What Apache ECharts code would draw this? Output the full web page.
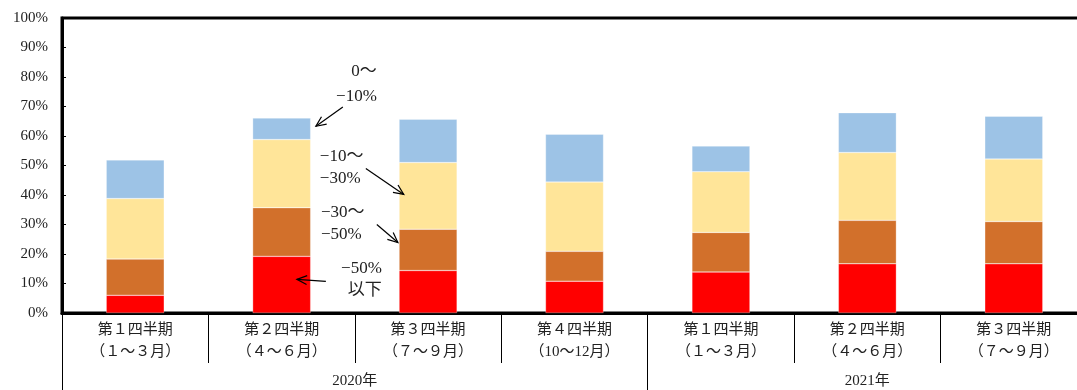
<!DOCTYPE html>
<html>
<head>
<meta charset="utf-8">
<script src="https://cdn.jsdelivr.net/npm/echarts@6/dist/echarts.min.js"></script>
<style>
  html, body { margin: 0; padding: 0; background: #fff; }
  #chart { width: 1077px; height: 390px; }
</style>
</head>
<body>
<div id="chart"></div>
<script>
// Quarters (two-line labels) and the year they belong to
const quarters = [
  '第１四半期\n（１～３月）',
  '第２四半期\n（４～６月）',
  '第３四半期\n（７～９月）',
  '第４四半期\n（10～12月）',
  '第１四半期\n（１～３月）',
  '第２四半期\n（４～６月）',
  '第３四半期\n（７～９月）'
];
const years = ['2020年', '2021年'];
const yearSpans = [[0, 3], [4, 6]];   // first and last quarter index of each year

// Share of respondents (%) in each decline band, stacked bottom to top
const below50 = [6.0, 19.2, 14.4, 10.8, 13.9, 16.7, 16.7];   // −50%以下
const from30to50 = [12.3, 16.5, 14.0, 10.1, 13.4, 14.7, 14.3]; // −30～−50%
const from10to30 = [20.5, 23.1, 22.6, 23.5, 20.6, 23.0, 21.2]; // −10～−30%
const from0to10 = [13.1, 7.3, 14.7, 16.2, 8.7, 13.5, 14.5];    // 0～−10%

const yTicks = [0, 10, 20, 30, 40, 50, 60, 70, 80, 90, 100];

const serif = '"Liberation Serif", "DejaVu Serif", "Noto Sans CJK JP", serif';
const colors = ['#FF0000', '#D2702B', '#FFE599', '#9DC3E6'];

// year label positions (centre of each year's quarters) and year boundaries
const yearCentres = yearSpans.map(s => (s[0] + s[1]) / 2);
const yearBounds = yearSpans.map(s => s[0] - 0.5);

function bar(name, data, color) {
  return {
    name: name, type: 'bar', stack: 'total', data: data, barWidth: 58,
    itemStyle: { color: color, borderColor: 'rgba(255,255,255,0.6)', borderWidth: 0.5 },
    emphasis: { disabled: true }, silent: true
  };
}

const chart = echarts.init(document.getElementById('chart'), null, { renderer: 'canvas' });

chart.setOption({
  animation: false,
  backgroundColor: '#fff',
  grid: {
    left: 62, top: 18, width: 1025, height: 295,
    outerBoundsMode: 'none', containLabel: false,
    show: true, borderColor: '#000', borderWidth: 3, backgroundColor: 'transparent'
  },
  xAxis: [
    {
      type: 'category', data: quarters, position: 'bottom',
      axisLine: { show: true, onZero: false, lineStyle: { color: '#000', width: 3 } },
      axisTick: { show: true, interval: 0, length: 50, lineStyle: { color: '#000', width: 1 } },
      axisLabel: {
        interval: 0, margin: 6, lineHeight: 22, fontSize: 15,
        fontFamily: serif, color: '#222'
      }
    },
    {
      // year row below the quarters
      type: 'value', position: 'bottom', min: -0.5, max: 6.5,
      axisLine: { show: false, onZero: false },
      splitLine: { show: false },
      axisTick: { show: true, customValues: yearBounds, length: 80, lineStyle: { color: '#000', width: 1 } },
      axisLabel: {
        customValues: yearCentres, margin: 61, fontSize: 15, fontFamily: serif, color: '#222',
        formatter: v => years[yearCentres.indexOf(v)] || ''
      }
    }
  ],
  yAxis: {
    type: 'value', min: 0, max: 100, interval: 10,
    axisLine: { show: true, onZero: false, lineStyle: { color: '#000', width: 3 } },
    axisTick: { show: true, inside: true, length: 4, lineStyle: { color: '#000', width: 1 } },
    splitLine: { show: false },
    axisLabel: {
      margin: 14, fontSize: 15, fontFamily: serif, color: '#222',
      formatter: v => yTicks.indexOf(v) >= 0 ? v + '%' : ''
    }
  },
  series: [
    bar('−50%以下', below50, colors[0]),
    bar('−30～−50%', from30to50, colors[1]),
    bar('−10～−30%', from10to30, colors[2]),
    bar('0～−10%', from0to10, colors[3])
  ]
});

// Callout labels for the bands, placed in data space near the 2020 Q2/Q3 bars
function pt(xf, v) {
  const a = chart.convertToPixel({ xAxisIndex: 0, yAxisIndex: 0 }, [1, v]);
  const b = chart.convertToPixel({ xAxisIndex: 0, yAxisIndex: 0 }, [2, v]);
  return [a[0] + (xf - 1) * (b[0] - a[0]), a[1]];
}
function label(text, xf, v, align) {
  const p = pt(xf, v);
  return {
    type: 'text', x: p[0], y: p[1], z: 100, silent: true,
    style: { text: text, fill: '#222', font: '17px ' + serif, align: align, verticalAlign: 'middle' }
  };
}
function arrow(from, to) {
  const p0 = pt(from[0], from[1]);
  const p1 = pt(to[0], to[1]);
  const ang = Math.atan2(p1[1] - p0[1], p1[0] - p0[0]);
  const h = 11, spread = 0.42;
  const w1 = [p1[0] - h * Math.cos(ang - spread), p1[1] - h * Math.sin(ang - spread)];
  const w2 = [p1[0] - h * Math.cos(ang + spread), p1[1] - h * Math.sin(ang + spread)];
  const st = { stroke: '#000', lineWidth: 1.2, fill: null };
  return [
    { type: 'polyline', z: 100, silent: true, shape: { points: [p0, p1] }, style: st },
    { type: 'polyline', z: 100, silent: true, shape: { points: [w1, p1, w2] }, style: st }
  ];
}

const callouts = [
  label('0～', 1.650, 81.7, 'right'),
  label('−10%', 1.650, 73.5, 'right'),
  label('−10～', 1.261, 53.1, 'left'),
  label('−30%', 1.261, 45.7, 'left'),
  label('−30～', 1.268, 34.0, 'left'),
  label('−50%', 1.268, 26.6, 'left'),
  label('−50%', 1.684, 15.1, 'right'),
  label('以下', 1.684, 7.6, 'right')
].concat(
  arrow([1.418, 69.8], [1.234, 63.3]),
  arrow([1.575, 49.0], [1.834, 40.2]),
  arrow([1.650, 30.0], [1.794, 23.9]),
  arrow([1.302, 10.7], [1.104, 11.4])
);

chart.setOption({ graphic: callouts });
</script>
</body>
</html>
